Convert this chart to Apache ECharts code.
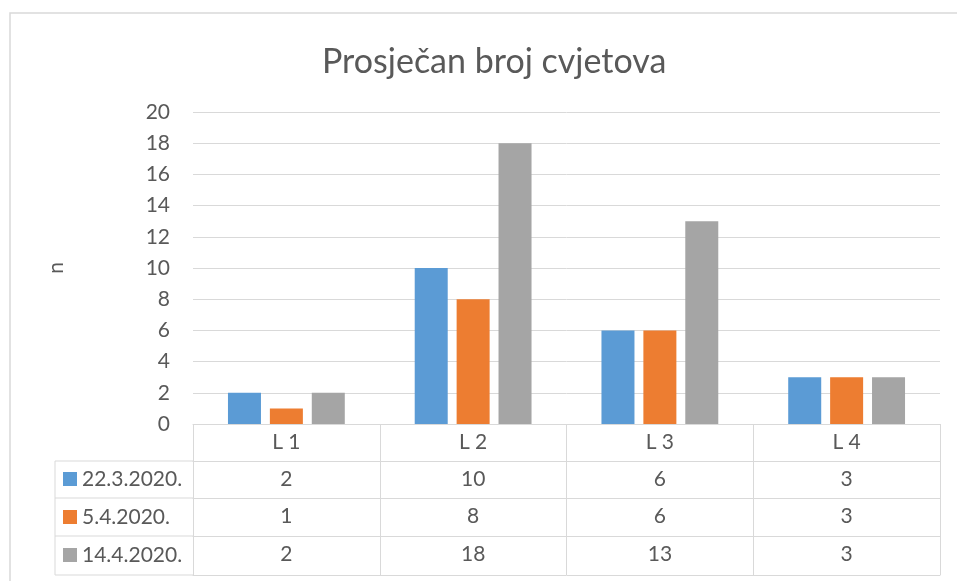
<!DOCTYPE html>
<html>
<head>
<meta charset="utf-8">
<script src="https://cdn.jsdelivr.net/npm/echarts@6/dist/echarts.min.js"></script>
<style>
  html, body { margin: 0; padding: 0; background: #fff; }
  #chart { width: 957px; height: 581px; }
</style>
</head>
<body>
<div id="chart"></div>
<script>
// podaci
const categories = ['L 1', 'L 2', 'L 3', 'L 4'];
const seriesNames = ['22.3.2020.', '5.4.2020.', '14.4.2020.'];
const s1 = [2, 10, 6, 3];
const s2 = [1, 8, 6, 3];
const s3 = [2, 18, 13, 3];
const colors = ['#5B9BD5', '#ED7D31', '#A5A5A5'];
const yTicks = { min: 0, max: 20, interval: 2 };

// raspored
const gridLeft = 193, gridRight = 17, gridTop = 112, gridBottomY = 424;
const rowBottoms = [461, 498, 536, 575]; // donji rub svakog reda tablice
const tableLeft = 55;
const lineColor = '#D9D9D9';
const textColor = '#595959';
const font = 'Lato';

const chart = echarts.init(document.getElementById('chart'));

const values = [s1, s2, s3];

// x osi: prva su kategorije, ostale su redovi tablice
const xAxes = [{
  type: 'category',
  data: categories,
  position: 'bottom',
  axisLine: { lineStyle: { color: lineColor, width: 1 } },
  axisTick: { show: true, interval: 0, length: rowBottoms[0] - gridBottomY, lineStyle: { color: lineColor } },
  axisLabel: { color: textColor, fontSize: 21, fontFamily: font, margin: 8, interval: 0 }
}];
values.forEach((vals, i) => {
  const top = rowBottoms[i];
  xAxes.push({
    type: 'category',
    data: vals.map(String),
    position: 'bottom',
    offset: top - gridBottomY,
    axisLine: { lineStyle: { color: lineColor, width: 1 } },
    axisTick: { show: true, interval: 0, length: rowBottoms[i + 1] - top, lineStyle: { color: lineColor } },
    axisLabel: { color: textColor, fontSize: 21, fontFamily: font, margin: 8, interval: 0 }
  });
});
// donja crta tablice
xAxes.push({
  type: 'category',
  data: categories,
  position: 'bottom',
  offset: rowBottoms[3] - gridBottomY,
  axisLine: { lineStyle: { color: lineColor, width: 1 } },
  axisTick: { show: false },
  axisLabel: { show: false }
});

// lijevi stupac tablice
const leftLines = rowBottoms.map(y => ({
  type: 'line',
  shape: { x1: tableLeft, y1: y, x2: gridLeft, y2: y },
  style: { stroke: lineColor, lineWidth: 1 }
}));
leftLines.push({
  type: 'line',
  shape: { x1: tableLeft, y1: rowBottoms[0], x2: tableLeft, y2: rowBottoms[3] },
  style: { stroke: lineColor, lineWidth: 1 }
});

const option = {
  animation: false,
  color: colors,
  title: {
    text: 'Prosječan broj cvjetova',
    left: 317,
    top: 40,
    textStyle: { color: textColor, fontSize: 34, fontWeight: 'normal', fontFamily: font }
  },
  legend: {
    orient: 'vertical',
    left: 63,
    top: 468,
    padding: 0,
    icon: 'rect',
    itemWidth: 14,
    itemHeight: 14,
    itemGap: 16,
    selectedMode: false,
    textStyle: { color: textColor, fontSize: 21, fontFamily: font, lineHeight: 22 },
    data: seriesNames
  },
  grid: {
    left: gridLeft,
    right: gridRight,
    top: gridTop,
    bottom: 581 - gridBottomY
  },
  xAxis: xAxes,
  yAxis: {
    type: 'value',
    min: yTicks.min,
    max: yTicks.max,
    interval: yTicks.interval,
    name: 'n',
    nameLocation: 'middle',
    nameGap: 126,
    nameTextStyle: { color: textColor, fontSize: 21, fontFamily: font },
    axisLine: { show: false },
    axisTick: { show: false },
    axisLabel: { color: textColor, fontSize: 21, fontFamily: font, margin: 23 },
    splitLine: { lineStyle: { color: lineColor, width: 1 } }
  },
  series: seriesNames.map((name, i) => ({
    name: name,
    type: 'bar',
    xAxisIndex: 0,
    data: values[i],
    barWidth: 33,
    barGap: '27%'
  })),
  graphic: [{
    type: 'rect',
    shape: { x: 10, y: 13, width: 990, height: 620 },
    style: { fill: 'none', stroke: lineColor, lineWidth: 1.5 },
    silent: true
  }].concat(leftLines)
};

chart.setOption(option);
</script>
</body>
</html>
